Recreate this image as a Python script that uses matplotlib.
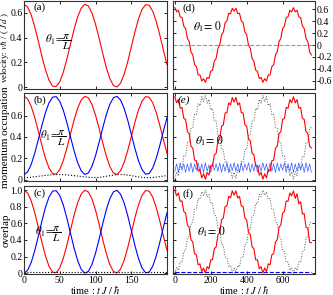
import matplotlib
matplotlib.use('Agg')
import matplotlib.pyplot as plt

plt.rcParams['font.family'] = ['Liberation Serif', 'DejaVu Serif']
plt.rcParams['mathtext.fontset'] = 'stix'
plt.rcParams['axes.unicode_minus'] = False

# 左列 theta1 = pi/L, 时间 0..200 步长 5
t_left = [0, 5, 10, 15, 20, 25, 30, 35, 40, 45, 50, 55, 60, 65, 70, 75, 80, 85, 90, 95,
          100, 105, 110, 115, 120, 125, 130, 135, 140, 145, 150, 155, 160, 165, 170, 175,
          180, 185, 190, 195, 200]

velocity_a = [0.670, 0.648, 0.585, 0.488, 0.372, 0.250, 0.140, 0.056, 0.008, 0.004, 0.043,
              0.121, 0.227, 0.347, 0.466, 0.567, 0.638, 0.669, 0.656, 0.600, 0.510, 0.396,
              0.274, 0.160, 0.070, 0.014, 0.001, 0.032, 0.103, 0.204, 0.323, 0.443, 0.549,
              0.627, 0.666, 0.662, 0.614, 0.530, 0.420, 0.298, 0.182]

occ_red_b = [0.780, 0.756, 0.687, 0.582, 0.455, 0.323, 0.203, 0.111, 0.059, 0.054, 0.097,
             0.181, 0.297, 0.428, 0.558, 0.668, 0.745, 0.779, 0.765, 0.704, 0.605, 0.481,
             0.349, 0.225, 0.126, 0.065, 0.051, 0.085, 0.162, 0.272, 0.402, 0.533, 0.649,
             0.733, 0.776, 0.771, 0.719, 0.627, 0.507, 0.375, 0.248]
occ_blue_b = [0.050, 0.074, 0.143, 0.248, 0.375, 0.507, 0.627, 0.719, 0.771, 0.776, 0.733,
              0.649, 0.533, 0.402, 0.272, 0.162, 0.085, 0.051, 0.065, 0.126, 0.225, 0.349,
              0.481, 0.605, 0.704, 0.765, 0.779, 0.745, 0.668, 0.558, 0.428, 0.297, 0.181,
              0.097, 0.054, 0.059, 0.111, 0.203, 0.323, 0.455, 0.582]
occ_black_b = [0.020, 0.022, 0.025, 0.030, 0.034, 0.038, 0.042, 0.046, 0.048, 0.050, 0.050,
               0.049, 0.047, 0.044, 0.040, 0.036, 0.032, 0.028, 0.025, 0.023, 0.022, 0.024,
               0.028, 0.034, 0.040, 0.045, 0.049, 0.050, 0.049, 0.045, 0.040, 0.034, 0.028,
               0.024, 0.021, 0.020, 0.022, 0.026, 0.031, 0.036, 0.040]

ovl_red_c = [1.000, 0.967, 0.873, 0.729, 0.555, 0.374, 0.209, 0.083, 0.012, 0.006, 0.064,
             0.180, 0.339, 0.518, 0.696, 0.847, 0.953, 0.999, 0.979, 0.896, 0.761, 0.591,
             0.409, 0.240, 0.104, 0.021, 0.002, 0.048, 0.153, 0.305, 0.482, 0.662, 0.820,
             0.936, 0.995, 0.988, 0.917, 0.791, 0.627, 0.446, 0.272]
ovl_blue_c = [0.000, 0.033, 0.127, 0.271, 0.445, 0.626, 0.791, 0.917, 0.988, 0.994, 0.936,
              0.820, 0.661, 0.482, 0.304, 0.153, 0.047, 0.001, 0.021, 0.104, 0.239, 0.409,
              0.591, 0.760, 0.896, 0.979, 0.998, 0.952, 0.847, 0.695, 0.518, 0.338, 0.180,
              0.064, 0.005, 0.012, 0.083, 0.209, 0.373, 0.554, 0.728]
t_flat_left = [0, 200]
ovl_black_c = [0.012, 0.012]

# 右列 theta1 = 0, 时间 0..760 步长 10
t_right = [0, 10, 20, 30, 40, 50, 60, 70, 80, 90, 100, 110, 120, 130, 140, 150, 160, 170,
           180, 190, 200, 210, 220, 230, 240, 250, 260, 270, 280, 290, 300, 310, 320, 330,
           340, 350, 360, 370, 380, 390, 400, 410, 420, 430, 440, 450, 460, 470, 480, 490,
           500, 510, 520, 530, 540, 550, 560, 570, 580, 590, 600, 610, 620, 630, 640, 650,
           660, 670, 680, 690, 700, 710, 720, 730, 740, 750, 760]

velocity_d = [0.630, 0.559, 0.587, 0.475, 0.464, 0.318, 0.279, 0.112, 0.059, -0.115, -0.166,
              -0.330, -0.363, -0.502, -0.503, -0.606, -0.567, -0.627, -0.546, -0.563, -0.442,
              -0.423, -0.270, -0.226, -0.055, -0.001, 0.172, 0.219, 0.378, 0.404, 0.535,
              0.527, 0.619, 0.570, 0.619, 0.527, 0.535, 0.404, 0.378, 0.219, 0.172, -0.001,
              -0.055, -0.226, -0.270, -0.423, -0.442, -0.563, -0.546, -0.627, -0.567, -0.606,
              -0.503, -0.502, -0.363, -0.330, -0.166, -0.115, 0.059, 0.112, 0.279, 0.318,
              0.464, 0.475, 0.587, 0.559, 0.630, 0.559, 0.587, 0.475, 0.464, 0.318, 0.279,
              0.112, 0.059, -0.115, -0.166]

occ_red_e = [0.775, 0.719, 0.749, 0.668, 0.676, 0.574, 0.564, 0.450, 0.432, 0.314, 0.297,
             0.185, 0.179, 0.082, 0.095, 0.019, 0.057, 0.007, 0.069, 0.045, 0.132, 0.129,
             0.235, 0.247, 0.364, 0.382, 0.500, 0.514, 0.624, 0.626, 0.718, 0.699, 0.769,
             0.725, 0.769, 0.699, 0.718, 0.626, 0.624, 0.514, 0.500, 0.382, 0.364, 0.247,
             0.235, 0.129, 0.132, 0.045, 0.069, 0.007, 0.057, 0.019, 0.095, 0.082, 0.179,
             0.185, 0.297, 0.314, 0.432, 0.450, 0.564, 0.574, 0.676, 0.668, 0.749, 0.719,
             0.775, 0.719, 0.749, 0.668, 0.676, 0.574, 0.564, 0.450, 0.432, 0.314, 0.297]
occ_black_e = [0.010, 0.076, 0.036, 0.127, 0.109, 0.221, 0.221, 0.345, 0.353, 0.481, 0.488,
               0.610, 0.606, 0.713, 0.690, 0.776, 0.728, 0.788, 0.716, 0.750, 0.653, 0.666,
               0.550, 0.548, 0.421, 0.413, 0.285, 0.281, 0.161, 0.169, 0.067, 0.096, 0.016,
               0.070, 0.016, 0.096, 0.067, 0.169, 0.161, 0.281, 0.285, 0.413, 0.421, 0.548,
               0.550, 0.666, 0.653, 0.750, 0.716, 0.788, 0.728, 0.776, 0.690, 0.713, 0.606,
               0.610, 0.488, 0.481, 0.353, 0.345, 0.221, 0.221, 0.109, 0.127, 0.036, 0.076,
               0.010, 0.076, 0.036, 0.127, 0.109, 0.221, 0.221, 0.345, 0.353, 0.481, 0.488]
occ_blue_e = [0.08, 0.15, 0.07, 0.16, 0.09, 0.15, 0.07, 0.15, 0.08, 0.16, 0.07,
              0.15, 0.09, 0.16, 0.08, 0.15, 0.07, 0.16, 0.08, 0.14, 0.07, 0.16,
              0.09, 0.15, 0.08, 0.16, 0.07, 0.15, 0.08, 0.16, 0.07, 0.15, 0.09,
              0.16, 0.08, 0.15, 0.07, 0.16, 0.08, 0.15, 0.09, 0.16, 0.07, 0.15,
              0.08, 0.16, 0.07, 0.14, 0.08, 0.16, 0.09, 0.15, 0.07, 0.16, 0.08,
              0.15, 0.07, 0.16, 0.08, 0.15, 0.09, 0.16, 0.07, 0.15, 0.08, 0.16,
              0.07, 0.15, 0.08, 0.16, 0.09, 0.15, 0.07, 0.16, 0.08, 0.15, 0.07]

ovl_red_f = [1.000, 0.932, 0.966, 0.865, 0.870, 0.743, 0.725, 0.581, 0.553, 0.403, 0.376,
             0.235, 0.222, 0.101, 0.112, 0.019, 0.062, 0.002, 0.079, 0.052, 0.161, 0.162,
             0.295, 0.316, 0.463, 0.493, 0.641, 0.665, 0.803, 0.810, 0.925, 0.906, 0.992,
             0.940, 0.992, 0.906, 0.925, 0.810, 0.803, 0.665, 0.641, 0.493, 0.463, 0.316,
             0.295, 0.162, 0.161, 0.052, 0.079, 0.002, 0.062, 0.019, 0.112, 0.101, 0.222,
             0.235, 0.376, 0.403, 0.553, 0.581, 0.725, 0.743, 0.870, 0.865, 0.966, 0.932,
             0.990, 0.902, 0.956, 0.835, 0.860, 0.713, 0.715, 0.551, 0.543, 0.373, 0.366]
ovl_black_f = [0.000, 0.068, 0.034, 0.135, 0.130, 0.257, 0.275, 0.419, 0.447, 0.597, 0.624,
               0.765, 0.778, 0.899, 0.888, 0.981, 0.938, 0.998, 0.921, 0.948, 0.839, 0.838,
               0.705, 0.684, 0.537, 0.507, 0.359, 0.335, 0.197, 0.190, 0.075, 0.094, 0.008,
               0.060, 0.008, 0.094, 0.075, 0.190, 0.197, 0.335, 0.359, 0.507, 0.537, 0.684,
               0.705, 0.838, 0.839, 0.948, 0.921, 0.998, 0.938, 0.981, 0.888, 0.899, 0.778,
               0.765, 0.624, 0.597, 0.447, 0.419, 0.275, 0.257, 0.130, 0.135, 0.034, 0.068,
               0.000, 0.068, 0.034, 0.135, 0.130, 0.257, 0.275, 0.419, 0.447, 0.597, 0.624]
t_flat_right = [0, 760]
ovl_blue_f = [0.012, 0.012]

# 刻度
left_xticks = [0, 50, 100, 150]
right_xticks = [0, 200, 400, 600]
vel_a_ticks = [0, 0.2, 0.4, 0.6]
vel_a_labels = ['0', '0.2', '0.4', '0.6']
occ_ticks = [0, 0.2, 0.4, 0.6]
occ_labels = ['0', '0.2', '0.4', '0.6']
ovl_ticks = [0, 0.2, 0.4, 0.6, 0.8, 1.0]
ovl_labels = ['0', '0.2', '0.4', '0.6', '0.8', '1.0']
vel_d_ticks = [-0.6, -0.4, -0.2, 0, 0.2, 0.4, 0.6]
vel_d_labels = ['-0.6', '-0.4', '-0.2', '0', '0.2', '0.4', '0.6']

fig = plt.figure(figsize=(3.33, 2.95), dpi=100)

W, H = 333.0, 295.0
def box(x0, x1, y0, y1):
    # 像素坐标 -> figure 比例
    return [x0 / W, 1 - y1 / H, (x1 - x0) / W, (y1 - y0) / H]

ax_a = fig.add_axes(box(24, 167, 0.5, 89))
ax_b = fig.add_axes(box(24, 167, 93, 181))
ax_c = fig.add_axes(box(24, 167, 186, 274))
ax_d = fig.add_axes(box(173, 315, 0.5, 89))
ax_e = fig.add_axes(box(173, 315, 93, 181))
ax_f = fig.add_axes(box(173, 315, 186, 274))

lw = 0.8
ax_a.plot(t_left, velocity_a, color='#ff0000', lw=lw)

ax_b.plot(t_left, occ_red_b, color='#ff0000', lw=lw)
ax_b.plot(t_left, occ_blue_b, color='#0000ff', lw=lw)
ax_b.plot(t_left, occ_black_b, color='k', lw=lw, ls=':')

ax_c.plot(t_left, ovl_red_c, color='#ff0000', lw=lw)
ax_c.plot(t_left, ovl_blue_c, color='#0000ff', lw=lw)
ax_c.plot(t_flat_left, ovl_black_c, color='k', lw=lw, ls=':')

ax_d.axhline(0, color='#999999', lw=0.8, ls='--')
ax_d.plot(t_right, velocity_d, color='#ff0000', lw=lw)

ax_e.plot(t_right, occ_black_e, color='#555555', lw=0.7, ls=':')
ax_e.plot(t_right, occ_blue_e, color='#3a5cff', lw=0.5)
ax_e.plot(t_right, occ_red_e, color='#ff0000', lw=lw)

ax_f.plot(t_right, ovl_black_f, color='#555555', lw=0.7, ls=':')
ax_f.plot(t_flat_right, ovl_blue_f, color='#0000ff', lw=lw, ls='--')
ax_f.plot(t_right, ovl_red_f, color='#ff0000', lw=lw)

for ax in [ax_a, ax_b, ax_c]:
    ax.set_xlim(0, 200)
    ax.set_xticks(left_xticks)
for ax in [ax_d, ax_e, ax_f]:
    ax.set_xlim(-10, 780)
    ax.set_xticks(right_xticks)

ax_a.set_ylim(-0.015, 0.70)
ax_b.set_ylim(-0.01, 0.81)
ax_c.set_ylim(-0.01, 1.05)
ax_d.set_ylim(-0.74, 0.75)
ax_e.set_ylim(-0.01, 0.81)
ax_f.set_ylim(-0.01, 1.05)

ax_a.set_yticks(vel_a_ticks, vel_a_labels)
ax_b.set_yticks(occ_ticks, occ_labels)
ax_c.set_yticks(ovl_ticks, ovl_labels)
ax_d.set_yticks(vel_d_ticks, vel_d_labels)
ax_e.set_yticks(occ_ticks)
ax_f.set_yticks(ovl_ticks)

for ax in [ax_a, ax_b, ax_c, ax_d, ax_e, ax_f]:
    ax.tick_params(direction='in', length=2.5, width=0.6, labelsize=7,
                   top=True, right=True, pad=1.2)
    for s in ax.spines.values():
        s.set_linewidth(0.8)
        s.set_color('#333333')

for ax in [ax_a, ax_b, ax_d, ax_e]:
    ax.tick_params(labelbottom=False)
for ax in [ax_e, ax_f]:
    ax.tick_params(labelleft=False)
ax_d.tick_params(labelleft=False, labelright=True)

ax_a.set_ylabel(r'velocity: $v\hbar$ / ( $J\,d$ )', fontsize=6.5, va='center')
ax_b.set_ylabel('momentum occupation', fontsize=8)
ax_c.set_ylabel('overlap', fontsize=8)
ax_a.yaxis.set_label_coords(-0.133, 0.47)
for ax in [ax_b, ax_c]:
    ax.yaxis.set_label_coords(-0.095, 0.5)
ax_c.set_xlabel(r'time : $t\;J\;/\;\hbar$', fontsize=7.5, labelpad=-0.5)
ax_f.set_xlabel(r'time : $t\;J\;/\;\hbar$', fontsize=7.5, labelpad=-0.5)

# 面板标号
ax_a.text(0.065, 0.98, '(a)', transform=ax_a.transAxes, fontsize=8, va='top')
ax_b.text(0.065, 0.97, '(b)', transform=ax_b.transAxes, fontsize=8, va='top')
ax_c.text(0.065, 0.97, '(c)', transform=ax_c.transAxes, fontsize=8, va='top')
ax_d.text(0.07, 0.97, '(d)', transform=ax_d.transAxes, fontsize=8, va='top')
ax_e.text(0.035, 0.97, '(e)', transform=ax_e.transAxes, fontsize=8, va='top', style='italic')
ax_f.text(0.07, 0.97, '(f)', transform=ax_f.transAxes, fontsize=8, va='top')

th_pi = r'$\theta_1\!=\!\dfrac{\pi}{L}$'
th_0 = r'$\theta_1\!=\,0$'
ax_a.text(0.15, 0.53, th_pi, transform=ax_a.transAxes, fontsize=8, va='center')
ax_b.text(0.11, 0.49, th_pi, transform=ax_b.transAxes, fontsize=8, va='center')
ax_c.text(0.08, 0.455, th_pi, transform=ax_c.transAxes, fontsize=8, va='center')
ax_d.text(0.14, 0.70, th_0, transform=ax_d.transAxes, fontsize=8.5, va='center')
ax_e.text(0.155, 0.455, th_0, transform=ax_e.transAxes, fontsize=8.5, va='center')
ax_f.text(0.17, 0.48, th_0, transform=ax_f.transAxes, fontsize=8.5, va='center')

fig.savefig('out.png', dpi=100)
